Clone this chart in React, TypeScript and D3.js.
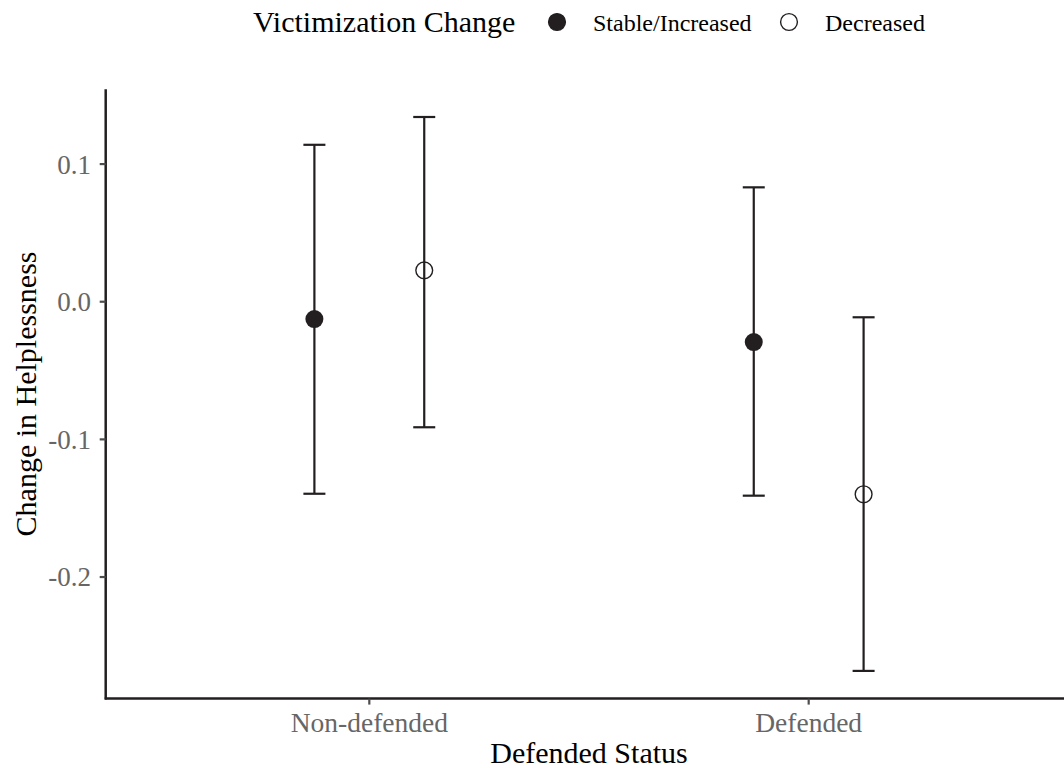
import React from "react";
import * as d3 from "d3";

const categories = ["Non-defended", "Defended"];
const groups = ["Stable/Increased", "Decreased"];
const means = [
  [-0.0126, 0.0228],
  [-0.0293, -0.1399],
];
const lowers = [
  [-0.1395, -0.0912],
  [-0.1409, -0.2682],
];
const uppers = [
  [0.114, 0.1342],
  [0.0831, -0.0113],
];
const yTicks = [-0.2, -0.1, 0.0, 0.1];
const yTickLabels = ["-0.2", "-0.1", "0.0", "0.1"];
const legendTitle = "Victimization Change";
const xTitle = "Defended Status";
const yTitle = "Change in Helplessness";

const W = 1064;
const H = 767;
const FONT = "'Liberation Serif', 'DejaVu Serif', serif";
const INK = "#231F20";

export default function App() {
  const left = 105.7;
  const right = 1072.3;
  const allVals = [...lowers.flat(), ...uppers.flat()];
  const lo = d3.min(allVals)!;
  const hi = d3.max(allVals)!;
  const pad = (hi - lo) * 0.05;
  const y = d3.scaleLinear().domain([lo - pad, hi + pad]).range([698.6, 89.3]);
  const x = d3.scalePoint<string>().domain(categories).range([left, right]).padding(0.6);
  const step = x.step();
  const dodge = d3.scalePoint<string>().domain(groups).range([-0.125 * step, 0.125 * step]);
  const capHalf = 11;
  const r = 9;
  const top = y.range()[1];
  const bottom = y.range()[0];

  return (
    <svg width={W} height={H} style={{ position: "absolute", left: 0, top: 0, background: "#fff" }} fontFamily={FONT}>
      <rect x={0} y={0} width={W} height={H} fill="#fff" />
      {/* legend */}
      <g>
        <text x={253} y={32} fontSize={30} fill="#000">{legendTitle}</text>
        {groups.map((g, i) => {
          const cx = i === 0 ? 557 : 789;
          return (
            <g key={g}>
              <circle cx={cx} cy={22} r={r - 0.6} fill={i === 0 ? INK : "#fff"} stroke={INK} strokeWidth={1.4} />
              <text x={cx + 36} y={30.5} fontSize={24} fill="#000">{g}</text>
            </g>
          );
        })}
      </g>
      {/* axes */}
      <line x1={left} x2={left} y1={top} y2={bottom + 1} stroke={INK} strokeWidth={2.5} />
      <line x1={left - 1} x2={W} y1={bottom} y2={bottom} stroke={INK} strokeWidth={2.5} />
      {yTicks.map((t, i) => (
        <g key={t}>
          <line x1={left - 6} x2={left} y1={y(t)} y2={y(t)} stroke="#4D4D4D" strokeWidth={2.2} />
          <text x={91} y={y(t)} dy="0.35em" textAnchor="end" fontSize={27} fill="#666">{yTickLabels[i]}</text>
        </g>
      ))}
      {categories.map((c) => (
        <g key={c}>
          <line x1={x(c)!} x2={x(c)!} y1={bottom} y2={bottom + 6} stroke="#4D4D4D" strokeWidth={2.2} />
          <text x={x(c)!} y={732} textAnchor="middle" fontSize={27.5} fill="#666">{c}</text>
        </g>
      ))}
      <text x={(left + right) / 2} y={763} textAnchor="middle" fontSize={30} fill="#000">{xTitle}</text>
      <text transform={`translate(36, ${(top + bottom) / 2}) rotate(-90)`} textAnchor="middle" fontSize={30} fill="#000">{yTitle}</text>
      {/* error bars and points */}
      {categories.map((c, ci) =>
        groups.map((g, gi) => {
          const cx = x(c)! + dodge(g)!;
          return (
            <g key={c + g}>
              <line x1={cx} x2={cx} y1={y(uppers[ci][gi])} y2={y(lowers[ci][gi])} stroke={INK} strokeWidth={2.2} />
              <line x1={cx - capHalf} x2={cx + capHalf} y1={y(uppers[ci][gi])} y2={y(uppers[ci][gi])} stroke={INK} strokeWidth={2.2} />
              <line x1={cx - capHalf} x2={cx + capHalf} y1={y(lowers[ci][gi])} y2={y(lowers[ci][gi])} stroke={INK} strokeWidth={2.2} />
              <circle cx={cx} cy={y(means[ci][gi])} r={gi === 0 ? r : r - 0.6} fill={gi === 0 ? INK : "none"} stroke={INK} strokeWidth={gi === 0 ? 0 : 1.4} />
            </g>
          );
        })
      )}
    </svg>
  );
}
